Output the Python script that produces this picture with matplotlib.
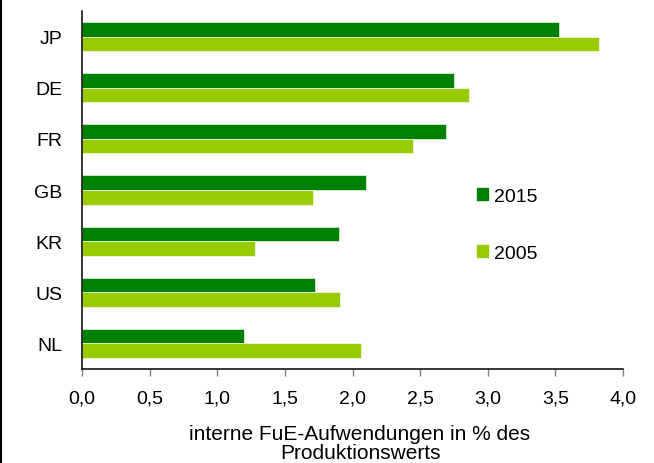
import matplotlib.pyplot as plt
import matplotlib.patches as mpatches
import numpy as np

plt.rcParams['font.family'] = ['Liberation Sans', 'DejaVu Sans']

countries = ['JP', 'DE', 'FR', 'GB', 'KR', 'US', 'NL']
vals_2015 = [3.53, 2.75, 2.69, 2.10, 1.90, 1.72, 1.20]
vals_2005 = [3.82, 2.86, 2.45, 1.71, 1.28, 1.91, 2.06]
xticks = [0, 0.5, 1.0, 1.5, 2.0, 2.5, 3.0, 3.5, 4.0]
xticklabels = ['0,0', '0,5', '1,0', '1,5', '2,0', '2,5', '3,0', '3,5', '4,0']

dark = '#008000'
light = '#99CC00'

fig = plt.figure(figsize=(6.54, 4.64), dpi=100)
ax = fig.add_axes([82/654, 1 - 370/464, (623-82)/654, (370-12)/464])

y = np.arange(len(countries))
h = 0.285
ax.barh(y - h/2, vals_2015, height=h, color=dark, edgecolor='#d8ecd0', linewidth=0.6)
ax.barh(y + h/2, vals_2005, height=h, color=light, edgecolor='#eef6d8', linewidth=0.6)

ax.set_ylim(len(countries) - 0.5, -0.5)
ax.set_xlim(0, 4.0)
ax.set_yticks(y)
ax.set_yticklabels(countries, fontsize=14)
ax.set_xticks(xticks)
ax.set_xticklabels(xticklabels, fontsize=14)
ax.tick_params(axis='y', length=0, pad=14)
ax.tick_params(axis='x', direction='out', length=5, width=1.0, color='#808080', pad=10)

ax.spines['top'].set_visible(False)
ax.spines['right'].set_visible(False)
ax.spines['left'].set_linewidth(1.1)
ax.spines['bottom'].set_linewidth(1.1)

fig.text(360/654, 1 - 444/464, 'interne FuE-Aufwendungen in % des\nProduktionswerts',
         fontsize=15, ha='center', va='center', multialignment='center', linespacing=1.0)

handles = [mpatches.Patch(color=dark, label='2015'),
           mpatches.Patch(color=light, label='2005')]
ax.legend(handles=handles, loc='upper left', bbox_to_anchor=(0.698, 0.555),
          frameon=False, fontsize=14, handlelength=0.55, handleheight=0.55,
          handletextpad=0.3, labelspacing=2.05)

# left border line of the frame
fig.add_artist(plt.Line2D([0.001, 0.001], [0, 1], color='black', lw=1.5,
                          transform=fig.transFigure))

plt.savefig('out.png', dpi=100)
